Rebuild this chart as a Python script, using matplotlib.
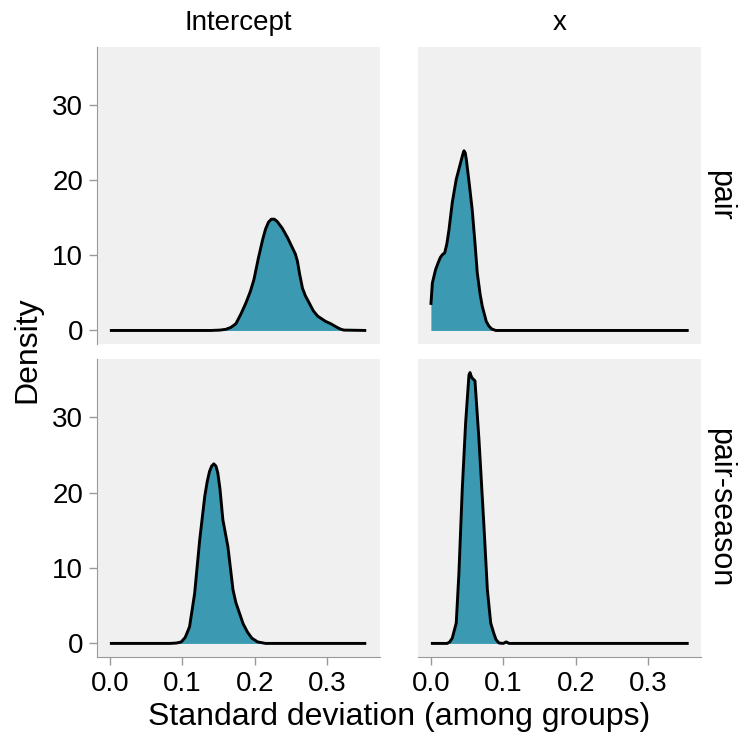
import matplotlib
matplotlib.use("Agg")
import matplotlib.pyplot as plt

plt.rcParams['font.family'] = ['Liberation Sans', 'DejaVu Sans']

col_labels = ["Intercept", "x"]
row_labels = ["pair", "pair-season"]
x_ticks = [0.0, 0.1, 0.2, 0.3]
x_tick_labels = ["0.0", "0.1", "0.2", "0.3"]
y_ticks = [0, 10, 20, 30]
y_tick_labels = ["0", "10", "20", "30"]

# Intercept / pair
int_pair_x = [0.0, 0.140, 0.152, 0.160, 0.167, 0.174, 0.181, 0.188, 0.194, 0.199, 0.205, 0.211, 0.215, 0.219, 0.223, 0.227, 0.231, 0.238, 0.245, 0.252, 0.256, 0.259, 0.262, 0.266, 0.270, 0.275, 0.281, 0.287, 0.298, 0.305, 0.312, 0.318, 0.323, 0.354]
int_pair_y = [0.0, 0.0, 0.05, 0.15, 0.4, 0.9, 2.2, 3.7, 5.2, 6.8, 9.6, 12.1, 13.5, 14.4, 14.8, 14.8, 14.5, 13.6, 12.4, 11.0, 10.2, 9.2, 7.5, 5.6, 4.6, 3.7, 2.6, 1.9, 1.2, 0.9, 0.5, 0.2, 0.05, 0.0]
# x / pair
x_pair_x = [0.0, 0.002, 0.0065, 0.010, 0.013, 0.016, 0.019, 0.022, 0.025, 0.0295, 0.035, 0.041, 0.044, 0.0457, 0.0475, 0.049, 0.053, 0.057, 0.061, 0.064, 0.068, 0.071, 0.0765, 0.080, 0.084, 0.0895, 0.356]
x_pair_y = [3.4, 6.3, 8.1, 9.0, 9.7, 10.1, 10.3, 11.5, 13.4, 17.0, 20.1, 22.3, 23.4, 23.9, 23.6, 22.7, 19.5, 16.1, 11.5, 7.7, 4.8, 3.2, 1.2, 0.6, 0.2, 0.0, 0.0]
# Intercept / pair-season
int_ps_x = [0.0, 0.0825, 0.092, 0.0986, 0.104, 0.110, 0.117, 0.124, 0.131, 0.1345, 0.1376, 0.1405, 0.1435, 0.1465, 0.149, 0.152, 0.156, 0.163, 0.170, 0.174, 0.179, 0.184, 0.190, 0.196, 0.204, 0.215, 0.354]
int_ps_y = [0.0, 0.0, 0.05, 0.2, 0.8, 2.2, 6.6, 13.7, 19.5, 21.5, 22.8, 23.5, 23.8, 23.5, 22.6, 20.5, 16.4, 12.8, 7.1, 5.4, 4.0, 2.6, 1.5, 0.7, 0.2, 0.0, 0.0]
# x / pair-season
x_ps_x = [0.0, 0.0226, 0.026, 0.0295, 0.035, 0.0387, 0.0433, 0.048, 0.0526, 0.054, 0.055, 0.0567, 0.0609, 0.0664, 0.0733, 0.078, 0.0826, 0.087, 0.090, 0.094, 0.100, 0.104, 0.108, 0.356]
x_ps_y = [0.0, 0.0, 0.2, 0.7, 2.7, 9.3, 20.4, 29.3, 35.6, 35.9, 35.6, 35.2, 34.8, 27.0, 15.5, 7.1, 2.7, 1.3, 0.5, 0.05, 0.0, 0.2, 0.0, 0.0]

panels = {
    (0, 0): (int_pair_x, int_pair_y),
    (0, 1): (x_pair_x, x_pair_y),
    (1, 0): (int_ps_x, int_ps_y),
    (1, 1): (x_ps_x, x_ps_y),
}

W, H = 739, 740
fig = plt.figure(figsize=(W / 100, H / 100), dpi=100)

col_px = [(97, 380), (418, 701)]
row_px = [(47, 344), (359, 657)]

fill_col = "#3B9AB2"
bg = "#F0F0F0"
axcol = "#999999"

for (r, c), (xs, ys) in panels.items():
    x0, x1 = col_px[c]
    y0, y1 = row_px[r]
    ax = fig.add_axes([x0 / W, 1 - y1 / H, (x1 - x0) / W, (y1 - y0) / H])
    ax.set_facecolor(bg)
    ax.fill_between(xs, ys, 0, color=fill_col, linewidth=0)
    ax.plot(xs, ys, color="black", linewidth=2.1, solid_joinstyle="round",
            solid_capstyle="butt")
    ax.set_xlim(-0.0178, 0.373)
    ax.set_ylim(-1.8, 37.7)
    for s in ax.spines.values():
        s.set_visible(False)
    ax.set_xticks(x_ticks)
    ax.set_yticks(y_ticks)
    ax.tick_params(axis="both", colors=axcol, length=6, width=1, labelsize=20,
                   labelcolor="black", pad=4)
    if c == 0:
        ax.spines["left"].set_visible(True)
        ax.spines["left"].set_color(axcol)
        ax.set_yticklabels(y_tick_labels)
    else:
        ax.tick_params(axis="y", left=False, labelleft=False)
    if r == 1:
        ax.spines["bottom"].set_visible(True)
        ax.spines["bottom"].set_color(axcol)
        ax.set_xticklabels(x_tick_labels)
    else:
        ax.tick_params(axis="x", bottom=False, labelbottom=False)
    if r == 0:
        ax.text(0.5, 1.0 + 24 / (y1 - y0), col_labels[c], transform=ax.transAxes,
                ha="center", va="center", fontsize=20)
    if c == 1:
        ax.text(1.0 + 19 / (x1 - x0), 0.5, row_labels[r], transform=ax.transAxes,
                ha="center", va="center", rotation=-90, fontsize=22)

fig.text(399 / W, 1 - 717 / H, "Standard deviation (among groups)", ha="center", va="center", fontsize=23)
fig.text(27 / W, 1 - 350 / H, "Density", ha="center", va="center", rotation=90, fontsize=23)

fig.savefig("out.png", dpi=100)
